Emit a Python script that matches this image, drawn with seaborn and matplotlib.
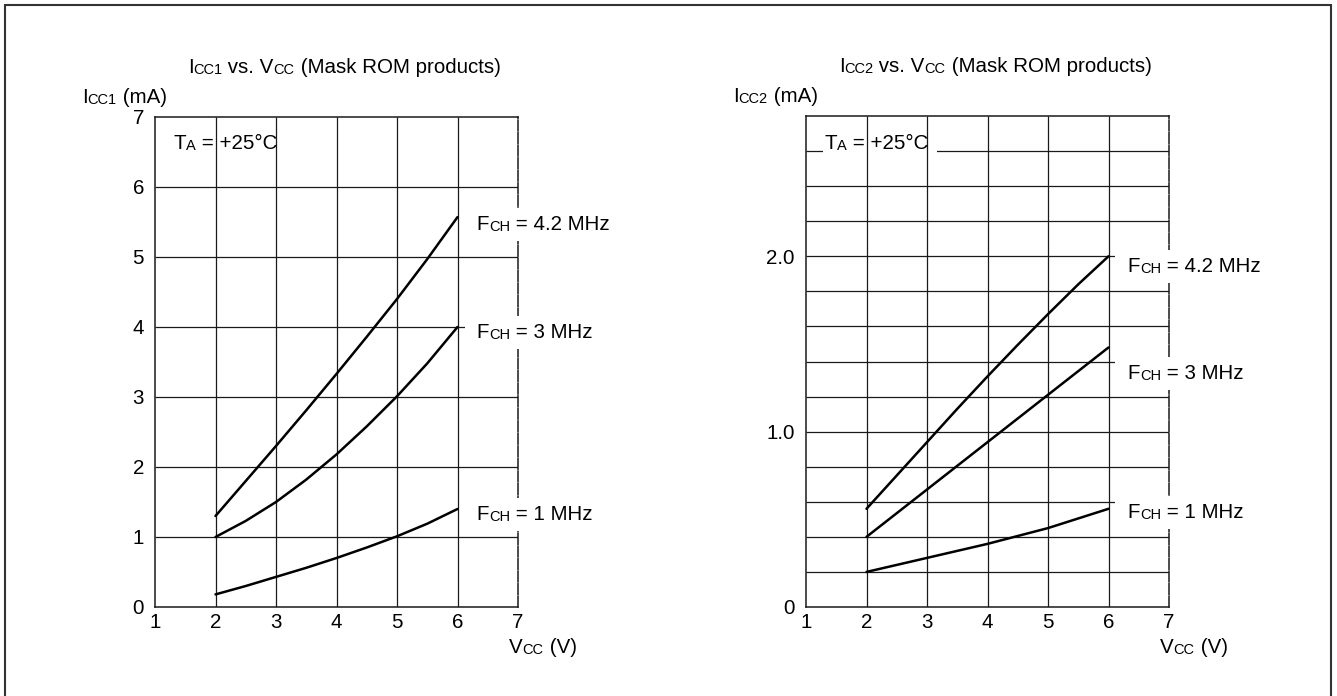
import numpy as np
import pandas as pd
import matplotlib
matplotlib.use("Agg")
import matplotlib.pyplot as plt
import seaborn as sns
from matplotlib.patches import Rectangle

# ---- values ----
vcc = [2, 2.5, 3, 3.5, 4, 4.5, 5, 5.5, 6]
freq_labels = ["4.2 MHz", "3 MHz", "1 MHz"]

icc1_42 = [1.30, 1.80, 2.30, 2.81, 3.33, 3.86, 4.40, 4.97, 5.57]
icc1_3 = [1.00, 1.23, 1.50, 1.82, 2.18, 2.58, 3.01, 3.48, 4.00]
icc1_1 = [0.18, 0.30, 0.43, 0.56, 0.70, 0.85, 1.01, 1.19, 1.40]

icc2_42 = [0.56, 0.75, 0.94, 1.13, 1.315, 1.495, 1.67, 1.84, 2.00]
icc2_3 = [0.40, 0.535, 0.67, 0.805, 0.94, 1.075, 1.21, 1.345, 1.48]
icc2_1 = [0.20, 0.24, 0.28, 0.32, 0.36, 0.405, 0.45, 0.505, 0.56]

x_ticks = [1, 2, 3, 4, 5, 6, 7]
y1_ticks = [0, 1, 2, 3, 4, 5, 6, 7]
y2_ticks = [0, 1.0, 2.0]
y2_ticklabels = ["0", "1.0", "2.0"]

BIG = 14.8
SMALL = 10.5
INK = "#1a1a1a"


def long_df(series):
    rows = []
    for name, vals in zip(freq_labels, series):
        for v, i in zip(vcc, vals):
            rows.append({"vcc": v, "icc": i, "freq": name})
    return pd.DataFrame(rows)


def rich_text(ax, x, y, parts, transform=None, zorder=5):
    # chain text pieces so the small "subscript" letters sit on the baseline
    if transform is None:
        transform = ax.transData
    t = ax.text(x, y, parts[0][0], fontsize=parts[0][1], transform=transform,
                ha="left", va="baseline", zorder=zorder, color="black")
    pieces = [t]
    for s, size in parts[1:]:
        t = ax.annotate(s, xy=(1, 0), xycoords=t, fontsize=size, ha="left",
                        va="bottom", zorder=zorder, color="black",
                        annotation_clip=False)
        pieces.append(t)
    return pieces


def white_box(ax, pieces, pad_l, pad_r, pad_v, zorder):
    # white patch behind a group of text pieces (hides grid / dashed border)
    fig = ax.figure
    r = fig.canvas.get_renderer()
    boxes = [p.get_window_extent(r) for p in pieces]
    x0 = min(b.x0 for b in boxes) - pad_l
    x1 = max(b.x1 for b in boxes) + pad_r
    y0 = min(b.y0 for b in boxes) - pad_v
    y1 = max(b.y1 for b in boxes) + pad_v
    inv = ax.transAxes.inverted()
    (ax0, ay0), (ax1, ay1) = inv.transform([(x0, y0), (x1, y1)])
    ax.add_patch(Rectangle((ax0, ay0), ax1 - ax0, ay1 - ay0, transform=ax.transAxes,
                           facecolor="white", edgecolor="none", zorder=zorder,
                           clip_on=False))


def setup_axes(ax, ymax, h_grid):
    ax.set_xlim(1, 7)
    ax.set_ylim(0, ymax)
    ax.vlines(np.arange(2, 7), 0, ymax, color=INK, lw=0.9, zorder=3)
    ax.hlines(h_grid, 1, 7, color=INK, lw=0.9, zorder=1)
    for side in ["left", "bottom", "top", "right"]:
        ax.spines[side].set_color(INK)
        ax.spines[side].set_linewidth(1.1)
        ax.spines[side].set_visible(True)
    ax.spines["right"].set_linestyle((0, (7, 1.2)))
    ax.set_xticks(x_ticks)
    ax.set_xticklabels([str(v) for v in x_ticks])
    ax.tick_params(axis="both", length=0, labelsize=BIG, labelcolor="black")
    ax.tick_params(axis="x", pad=4)
    ax.tick_params(axis="y", pad=8)
    ax.set_xlabel("")
    ax.set_ylabel("")


sns.set_style("white")
plt.rcParams["font.family"] = ["Liberation Sans", "DejaVu Sans"]

fig = plt.figure(figsize=(13.37, 6.96), dpi=100)
ax1 = fig.add_axes([155 / 1337, 89 / 696, 363 / 1337, 490 / 696])
ax2 = fig.add_axes([806 / 1337, 89 / 696, 363 / 1337, 491 / 696])

pal = {name: "black" for name in freq_labels}

# ---- left: Icc1 ----
df1 = long_df([icc1_42, icc1_3, icc1_1])
sns.lineplot(data=df1, x="vcc", y="icc", hue="freq", palette=pal, estimator=None,
             legend=False, lw=1.8, ax=ax1, zorder=3.5)
setup_axes(ax1, 7, np.arange(1, 7))
ax1.set_yticks(y1_ticks)
ax1.set_yticklabels([str(v) for v in y1_ticks])

# ---- right: Icc2 ----
df2 = long_df([icc2_42, icc2_3, icc2_1])
sns.lineplot(data=df2, x="vcc", y="icc", hue="freq", palette=pal, estimator=None,
             legend=False, lw=1.8, ax=ax2, zorder=3.5)
setup_axes(ax2, 2.8, np.arange(0.2, 2.7, 0.2))
ax2.set_yticks(y2_ticks)
ax2.set_yticklabels(y2_ticklabels)

# ---- texts ----
for ax, sub in [(ax1, "CC1"), (ax2, "CC2")]:
    rich_text(ax, 0.09, 1.090, [("I", BIG), (sub, SMALL), (" vs. V", BIG), ("CC", SMALL),
                                (" (Mask ROM products)", BIG)], transform=ax.transAxes)
    rich_text(ax, -0.201, 1.029, [("I", BIG), (sub, SMALL), (" (mA)", BIG)],
              transform=ax.transAxes)
    rich_text(ax, 0.975, -0.094, [("V", BIG), ("CC", SMALL), (" (V)", BIG)],
              transform=ax.transAxes)

rich_text(ax1, 1.30, 6.54, [("T", BIG), ("A", SMALL), (" = +25°C", BIG)])
ta2 = rich_text(ax2, 1.31, 2.61, [("T", BIG), ("A", SMALL), (" = +25°C", BIG)])

lab1 = []
for lab, yb in zip(freq_labels, [5.39, 3.84, 1.24]):
    lab1.append(rich_text(ax1, 6.32, yb, [("F", BIG), ("CH", SMALL), (" = " + lab, BIG)]))
lab2 = []
for lab, yb in zip(freq_labels, [1.91, 1.30, 0.51]):
    lab2.append(rich_text(ax2, 6.31, yb, [("F", BIG), ("CH", SMALL), (" = " + lab, BIG)]))

fig.canvas.draw()
for pieces in lab1:
    white_box(ax1, pieces, 12, 6, 7, 4)
for pieces in lab2:
    white_box(ax2, pieces, 12, 6, 7, 4)
white_box(ax2, ta2, 2, 8, 0, 2)

# outer frame of the figure
fig.add_artist(Rectangle((5 / 1337, -0.05), 1326 / 1337, 1.05 - 5 / 696,
                         transform=fig.transFigure, fill=False,
                         edgecolor="#333333", lw=1.5))

fig.savefig("out.png", dpi=100)
